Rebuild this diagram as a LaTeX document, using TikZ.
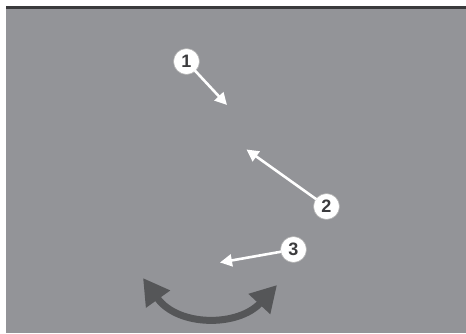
\documentclass[tikz,border=0pt]{standalone}
\usepackage{fontspec}
\setmainfont{Liberation Sans}
\usetikzlibrary{arrows.meta}
\definecolor{bg}{HTML}{939498}
\definecolor{topbar}{HTML}{3A3A3C}
\definecolor{numcol}{HTML}{3C3C3E}
\definecolor{bigarrow}{HTML}{555658}
\tikzset{
  callout/.style={circle,fill=white,draw=gray!60,line width=0.6pt,minimum size=26pt,inner sep=0pt,
    font=\fontsize{18}{18}\selectfont\bfseries,text=numcol},
  pointer/.style={draw=white,line width=2.6pt,-{Triangle[length=12pt,width=12pt]},shorten <=-1pt},
  swing/.style={draw=bigarrow,line width=7pt,{Triangle[length=26pt,width=28pt]}-{Triangle[length=26pt,width=28pt]}}
}
\begin{document}
\begin{tikzpicture}[x=1pt,y=-1pt]
\useasboundingbox (0,0) rectangle (466,333);
\fill[white] (0,0) rectangle (466,333);
\fill[bg] (6,8) rectangle (466,333);
\fill[topbar] (6,5.5) rectangle (466,8.5);
\node[callout] (c1) at (186.5,61.5) {1};
\node[callout] (c2) at (326.5,206.5) {2};
\node[callout] (c3) at (293.5,249.5) {3};
\coordinate (t1) at (227,105);
\coordinate (t2) at (246.5,149.5);
\coordinate (t3) at (220,262.5);
\draw[pointer] (c1) -- (t1);
\draw[pointer] (c2) -- (t2);
\draw[pointer] (c3) -- (t3);
\coordinate (s1) at (143,278);
\coordinate (s2) at (277,285);
\draw[swing] (s1) .. controls (178,327) and (238,327) .. (s2);
\end{tikzpicture}
\end{document}
